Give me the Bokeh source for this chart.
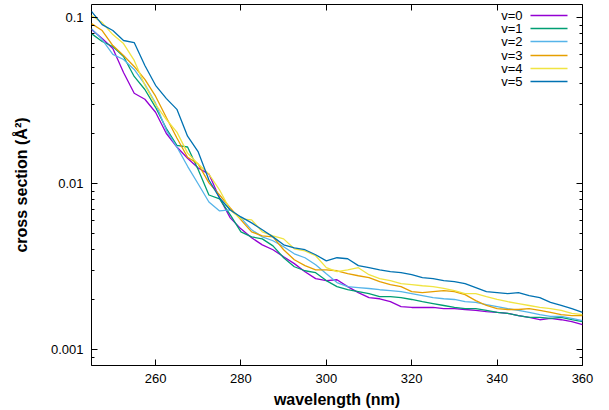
from bokeh.plotting import figure
from bokeh.models import (Range1d, FixedTicker, LinearAxis, LogAxis, NumeralTickFormatter,
                          CustomJSTickFormatter, Label, BoxAnnotation)
from bokeh.embed import file_html
from bokeh.resources import INLINE

wavelength = [245.0, 247.5, 250.0, 252.5, 255.0, 257.5, 260.0, 262.5, 265.0, 267.5,
              270.0, 272.5, 275.0, 277.5, 280.0, 282.5, 285.0, 287.5, 290.0, 292.5,
              295.0, 297.5, 300.0, 302.5, 305.0, 307.5, 310.0, 312.5, 315.0, 317.5,
              320.0, 322.5, 325.0, 327.5, 330.0, 332.5, 335.0, 337.5, 340.0, 342.5,
              345.0, 347.5, 350.0, 352.5, 355.0, 357.5, 360.0]

v0 = [0.0847, 0.0748, 0.0651, 0.0467, 0.0350, 0.0322, 0.0269, 0.0201, 0.0166, 0.0142,
      0.0124, 0.0114, 0.00818, 0.00621, 0.00533, 0.00471, 0.00427, 0.00399, 0.00362, 0.00329,
      0.00294, 0.00267, 0.00260, 0.00263, 0.00239, 0.00220, 0.00205, 0.00202, 0.00194, 0.00181,
      0.00179, 0.00179, 0.00179, 0.00176, 0.00176, 0.00174, 0.00172, 0.00169, 0.00167, 0.00165,
      0.00160, 0.00156, 0.00151, 0.00154, 0.00151, 0.00147, 0.00141]
v1 = [0.0801, 0.0718, 0.0670, 0.0583, 0.0442, 0.0369, 0.0288, 0.0215, 0.0170, 0.0166,
      0.0121, 0.00853, 0.00807, 0.00647, 0.00511, 0.00477, 0.00464, 0.00421, 0.00357, 0.00315,
      0.00298, 0.00290, 0.00260, 0.00239, 0.00229, 0.00223, 0.00217, 0.00208, 0.00208, 0.00205,
      0.00200, 0.00194, 0.00189, 0.00184, 0.00179, 0.00176, 0.00176, 0.00172, 0.00167, 0.00165,
      0.00160, 0.00156, 0.00156, 0.00154, 0.00156, 0.00151, 0.00147]
v2 = [0.0859, 0.0738, 0.0600, 0.0559, 0.0487, 0.0396, 0.0305, 0.0210, 0.0166, 0.0127,
      0.00993, 0.00774, 0.00684, 0.00693, 0.00621, 0.00526, 0.00477, 0.00452, 0.00416, 0.00377,
      0.00357, 0.00324, 0.00286, 0.00253, 0.00239, 0.00236, 0.00233, 0.00229, 0.00226, 0.00223,
      0.00217, 0.00211, 0.00205, 0.00202, 0.00200, 0.00194, 0.00192, 0.00186, 0.00181, 0.00176,
      0.00172, 0.00167, 0.00162, 0.00158, 0.00158, 0.00154, 0.00149]
v3 = [0.0920, 0.0836, 0.0679, 0.0591, 0.0508, 0.0424, 0.0336, 0.0251, 0.0188, 0.0144,
      0.0131, 0.0101, 0.00853, 0.00713, 0.00604, 0.00511, 0.00484, 0.00477, 0.00399, 0.00347,
      0.00320, 0.00302, 0.00302, 0.00298, 0.00286, 0.00278, 0.00271, 0.00256, 0.00246, 0.00239,
      0.00223, 0.00220, 0.00223, 0.00226, 0.00223, 0.00214, 0.00197, 0.00184, 0.00176, 0.00174,
      0.00174, 0.00176, 0.00172, 0.00167, 0.00162, 0.00160, 0.00160]
v4 = [0.103, 0.0933, 0.0790, 0.0698, 0.0552, 0.0391, 0.0300, 0.0244, 0.0204, 0.01525,
      0.0131, 0.0114, 0.00914, 0.00693, 0.00612, 0.00604, 0.00511, 0.00484, 0.00464, 0.00404,
      0.00393, 0.00367, 0.00311, 0.00294, 0.00302, 0.00311, 0.00282, 0.00267, 0.00260, 0.00249,
      0.00246, 0.00242, 0.00239, 0.00233, 0.00226, 0.00217, 0.00217, 0.00208, 0.00200, 0.00194,
      0.00189, 0.00184, 0.00179, 0.00176, 0.00172, 0.00165, 0.00162]
v5 = [0.109, 0.0908, 0.0836, 0.0728, 0.0708, 0.0515, 0.0391, 0.0326, 0.0280, 0.0193,
      0.0155, 0.0105, 0.00818, 0.00693, 0.00629, 0.00579, 0.00526, 0.00477, 0.00427, 0.00410,
      0.00399, 0.00372, 0.00342, 0.00357, 0.00352, 0.00320, 0.00311, 0.00302, 0.00294, 0.00290,
      0.00282, 0.00271, 0.00267, 0.00260, 0.00256, 0.00249, 0.00236, 0.00223, 0.00220, 0.00217,
      0.00220, 0.00211, 0.00205, 0.00192, 0.00184, 0.00176, 0.00167]

series = [v0, v1, v2, v3, v4, v5]
series_labels = ["v=0", "v=1", "v=2", "v=3", "v=4", "v=5"]
colors = ["#9400d3", "#009e73", "#56b4e9", "#e69f00", "#f0e442", "#0072b2"]

x_ticks = [260, 280, 300, 320, 340, 360]
y_ticks = [0.001, 0.01, 0.1]
y_minor = [0.0008, 0.0009, 0.002, 0.003, 0.004, 0.005, 0.006, 0.007, 0.008, 0.009,
           0.02, 0.03, 0.04, 0.05, 0.06, 0.07, 0.08, 0.09]

FONT = "Liberation Sans"
W, H = 609, 410
BL, BR, BT, BB = 91, 27, 4, 44

p = figure(width=W, height=H, output_backend="svg", toolbar_location=None,
           x_range=Range1d(245, 360), y_range=Range1d(0.0008, 0.12), y_axis_type="log",
           min_border_left=BL, min_border_right=BR, min_border_top=BT, min_border_bottom=BB,
           x_axis_location=None, y_axis_location=None)
p.outline_line_color = "black"
p.outline_line_width = 1
p.grid.visible = False
p.background_fill_color = "white"
p.border_fill_color = "white"

for ys, c in zip(series, colors):
    p.line(wavelength, ys, line_color=c, line_width=1.3)

blank = CustomJSTickFormatter(code="return ''")

def style(ax, labels=True):
    ax.axis_line_color = None
    ax.major_tick_in = 6
    ax.major_tick_out = 0
    ax.minor_tick_in = 3
    ax.minor_tick_out = 0
    ax.major_tick_line_color = "black"
    ax.minor_tick_line_color = "black"
    ax.major_label_text_font = FONT
    ax.major_label_text_font_size = "13px"
    ax.major_label_text_color = "black"
    ax.axis_label_text_font = FONT
    ax.axis_label_text_font_size = "16px"
    ax.axis_label_text_font_style = "bold"
    ax.axis_label_text_color = "black"
    if not labels:
        ax.formatter = blank
        ax.major_label_text_font_size = "1px"
        ax.major_label_standoff = 0

xb = LinearAxis(ticker=FixedTicker(ticks=x_ticks, minor_ticks=[]), axis_label="wavelength (nm)")
style(xb)
xb.major_label_standoff = 8
xb.axis_label_standoff = 5
p.add_layout(xb, "below")

xt = LinearAxis(ticker=FixedTicker(ticks=x_ticks, minor_ticks=[]))
style(xt, labels=False)
p.add_layout(xt, "above")

yl = LogAxis(ticker=FixedTicker(ticks=y_ticks, minor_ticks=y_minor),
             formatter=NumeralTickFormatter(format="0.[000]"), axis_label="cross section (Å²)")
style(yl)
yl.major_label_standoff = 8
yl.axis_label_standoff = 18
p.add_layout(yl, "left")

yr = LogAxis(ticker=FixedTicker(ticks=y_ticks, minor_ticks=y_minor))
style(yr, labels=False)
p.add_layout(yr, "right")

# key (text right-aligned, then a line sample), in frame screen units
frame_h = 362
key_rows_from_top = [12, 25, 38, 52, 65, 78]
for lab, c, r in zip(series_labels, colors, key_rows_from_top):
    y = frame_h - r
    p.add_layout(Label(x=431, y=y, x_units="screen", y_units="screen", text=lab,
                       text_align="right", text_baseline="middle",
                       text_font=FONT, text_font_size="13px", text_color="black"))
    p.add_layout(BoxAnnotation(left=439, right=476, bottom=y - 0.65, top=y + 0.65,
                               left_units="screen", right_units="screen",
                               bottom_units="screen", top_units="screen",
                               fill_color=c, fill_alpha=1, line_color=None))

open("out.html", "w").write(file_html(p, INLINE))
